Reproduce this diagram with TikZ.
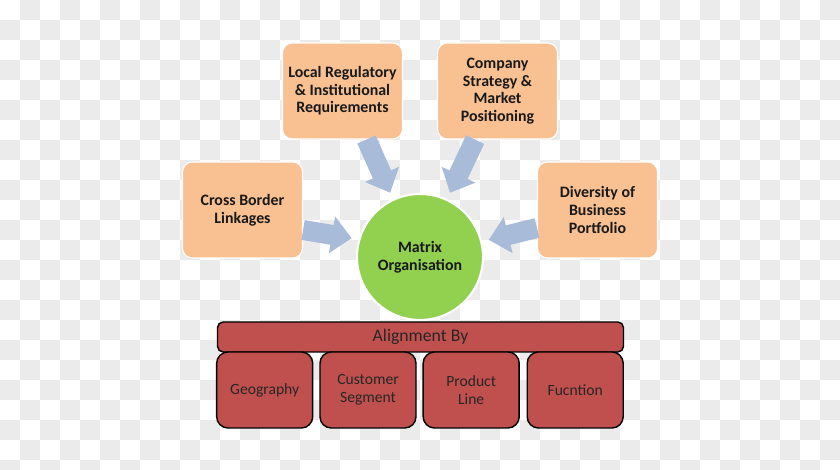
\documentclass[tikz,border=0pt]{standalone}
\usepackage{fontspec}
\setmainfont{Carlito}
\usetikzlibrary{arrows.meta,calc}
\definecolor{peach}{RGB}{249,192,146}
\definecolor{leaf}{RGB}{146,208,80}
\definecolor{brick}{RGB}{192,80,77}
\definecolor{steel}{RGB}{168,188,218}
\definecolor{checker}{RGB}{235,235,235}
\begin{document}
\begin{tikzpicture}[line join=round, line cap=round,
	factor/.style={draw=white, line width=0.8pt, fill=peach, rounded corners=7pt, minimum width=3.0cm, minimum height=2.4cm, align=center, text=black!90, font=\bfseries\fontsize{11.3}{12.5}\selectfont},
	hub/.style={circle, draw=white, line width=1.5pt, fill=leaf, minimum size=3.15cm, align=center, text=black!90, font=\bfseries\fontsize{11.3}{12.5}\selectfont},
	bar/.style={draw=black, line width=1pt, fill=brick, rounded corners=4pt, minimum width=10.15cm, minimum height=0.75cm, text=black!85, font=\fontsize{12.6}{14}\selectfont},
	cell/.style={draw=black, line width=1pt, fill=brick, rounded corners=8pt, minimum width=2.4cm, minimum height=1.9cm, align=center, text=black!85, font=\fontsize{11.1}{13}\selectfont},
	push/.style={draw=steel, line width=0.5cm, line cap=butt, -{Triangle[length=0.5cm, width=0.9cm]}}]
	\def\W{21} \def\H{11.75} % 840 x 470
	\useasboundingbox (0,0) rectangle (\W,\H);
	% checkered background
	\begin{scope}
		\clip (0,0) rectangle (\W,\H);
		\fill[white] (0,0) rectangle (\W,\H);
		\foreach \i in {0,...,41}
		\foreach \j in {0,...,23} {
			\pgfmathtruncatemacro\k{mod(\i+\j,2)}
			\ifnum\k=1 \fill[checker] (\i*0.5,\H-\j*0.5) rectangle ++(0.5,-0.5); \fi
		}
	\end{scope}
	% factors
	\node[factor] (lr) at (8.5625,9.475) {Local Regulatory\\\& Institutional\\Requirements};
	\node[factor] (cs) at (12.4375,9.475) {Company\\Strategy \&\\Market\\Positioning};
	\node[factor] (cb) at (6.0625,6.5) {Cross Border\\Linkages};
	\node[factor] (dv) at (14.9375,6.5) {Diversity of\\Business\\Portfolio};
	\node[hub] (mo) at (10.5,5.325) {Matrix\\Organisation};
	% block arrows
	\draw[push, shorten >=0.17cm] ($(lr.south)+(0.6,0)$) -- (mo.115);
	\draw[push, shorten >=0.17cm] ($(cs.south)+(-0.56,0)$) -- (mo.65);
	\draw[push, shorten >=0.17cm] ($(cb.east)+(0,-0.5)$) -- (mo.164);
	\draw[push, shorten >=0.17cm] ($(dv.west)+(0,-0.45)$) -- (mo.14);
	% alignment
	\node[bar] (ab) at (10.5125,3.325) {Alignment By};
	\foreach \x/\t/\n in {6.6175/Geography/geo, 9.2/Customer\\Segment/seg, 11.78/Product\\Line/pl, 14.38/Fucntion/fn}
		\node[cell] (\n) at (\x,2.0) {\t};
\end{tikzpicture}
\end{document}
